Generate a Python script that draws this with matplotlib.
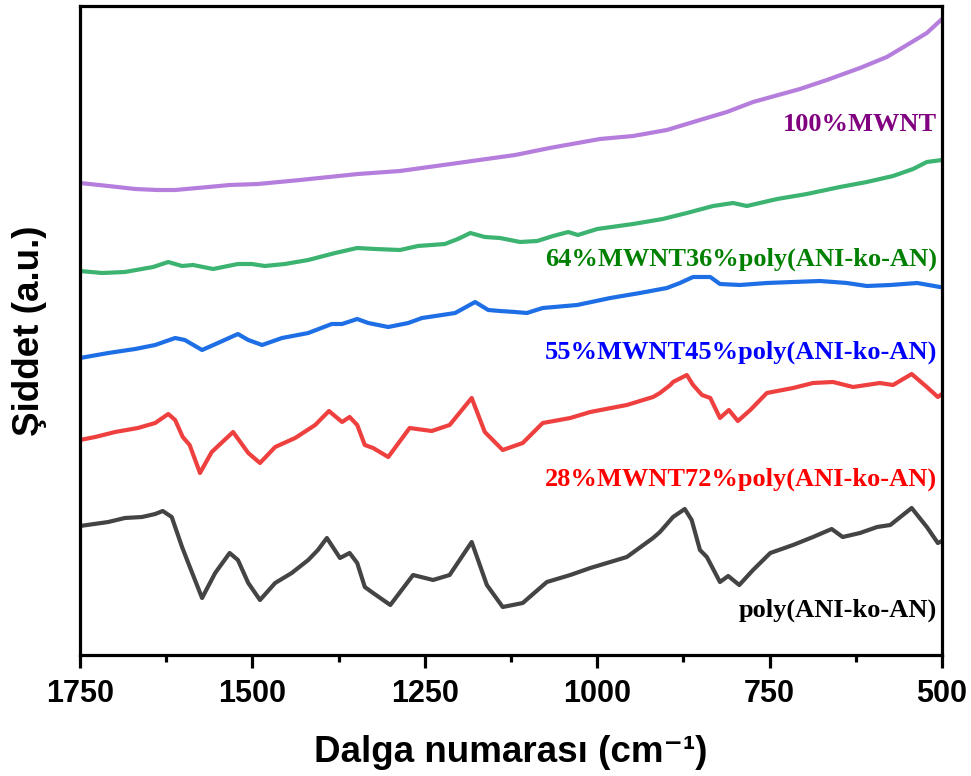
import matplotlib
matplotlib.use("Agg")
import matplotlib.pyplot as plt
from matplotlib.ticker import MultipleLocator

# ---- data (wavenumber in cm^-1, intensity in arbitrary units, offset stacked) ----
wn_poly = [1750, 1709, 1685, 1660, 1641, 1630, 1617, 1602, 1593, 1573, 1554, 1533, 1521, 1506,
           1489, 1467, 1443, 1419, 1405, 1392, 1373, 1359, 1348, 1337, 1325, 1300, 1267, 1238,
           1214, 1182, 1160, 1137, 1108, 1073, 1039, 1010, 957, 919, 909, 890, 873, 863, 851,
           841, 822, 810, 794, 774, 749, 716, 687, 660, 644, 619, 594, 575, 544, 522, 506, 500]
int_poly = [129, 133, 137, 138, 141, 144, 138, 108, 92, 57, 82, 102, 95, 72,
            55, 72, 82, 95, 105, 117, 97, 102, 92, 68, 62, 50, 80, 75,
            80, 113, 70, 48, 52, 73, 80, 87, 98, 117, 123, 138, 146, 135, 105,
            98, 73, 79, 70, 85, 102, 110, 118, 126, 118, 122, 128, 130, 147, 128, 112, 114]

wn_28 = [1750, 1728, 1699, 1666, 1641, 1622, 1612, 1601, 1591, 1576, 1559, 1528, 1506, 1489,
         1467, 1438, 1409, 1389, 1370, 1359, 1348, 1337, 1325, 1303, 1272, 1240, 1214, 1182,
         1163, 1137, 1108, 1079, 1039, 1010, 957, 919, 909, 894, 890, 870, 861, 848, 836,
         822, 809, 796, 778, 754, 716, 687, 658, 629, 590, 571, 544, 522, 506, 500]
int_28 = [215, 218, 223, 227, 232, 241, 235, 218, 210, 182, 203, 223, 202, 192,
          208, 217, 230, 244, 233, 238, 230, 210, 207, 198, 227, 224, 230, 257,
          223, 205, 212, 232, 237, 243, 250, 258, 262, 270, 273, 280, 270, 260, 257,
          237, 245, 234, 245, 262, 267, 272, 273, 268, 272, 270, 281, 268, 258, 261]

wn_55 = [1750, 1709, 1670, 1641, 1612, 1598, 1573, 1550, 1521, 1506, 1486, 1457, 1419, 1385,
         1370, 1348, 1332, 1303, 1274, 1254, 1225, 1206, 1177, 1158, 1141, 1119, 1102, 1079,
         1029, 981, 938, 899, 880, 861, 836, 822, 793, 754, 716, 677, 638, 609, 575, 536, 503, 500]
int_55 = [297, 302, 306, 310, 317, 315, 305, 312, 321, 315, 310, 317, 322, 331,
          331, 336, 332, 328, 332, 337, 340, 342, 353, 345, 344, 343, 342, 347,
          350, 357, 362, 367, 372, 378, 378, 371, 370, 372, 373, 374, 372, 369, 370, 372, 368, 368]

wn_64 = [1750, 1718, 1685, 1644, 1622, 1602, 1586, 1557, 1521, 1501, 1482, 1453, 1419, 1380,
         1348, 1322, 1286, 1260, 1221, 1202, 1184, 1163, 1141, 1119, 1112, 1087, 1064, 1042,
         1028, 1000, 948, 905, 870, 832, 803, 783, 739, 696, 648, 609, 571, 542, 522, 500]
int_64 = [384, 382, 383, 388, 393, 389, 390, 386, 391, 391, 389, 391, 395, 402,
          407, 406, 405, 409, 411, 416, 422, 418, 417, 414, 413, 414, 419, 423,
          420, 426, 431, 436, 442, 449, 452, 449, 456, 461, 468, 473, 479, 486, 493, 495]

wn_100 = [1750, 1709, 1670, 1638, 1612, 1564, 1533, 1492, 1431, 1347, 1286, 1202, 1119, 1069,
          996, 948, 899, 851, 812, 774, 706, 667, 619, 580, 546, 522, 500]
int_100 = [472, 469, 466, 465, 465, 468, 470, 471, 475, 481, 484, 492, 500, 507,
           516, 519, 525, 535, 543, 553, 566, 575, 587, 598, 612, 622, 636]

labels = ["poly(ANI-ko-AN)", "28%MWNT72%poly(ANI-ko-AN)", "55%MWNT45%poly(ANI-ko-AN)",
          "64%MWNT36%poly(ANI-ko-AN)", "100%MWNT"]
xticks = [1750, 1500, 1250, 1000, 750, 500]

# ---- styling ----
line_colors = ["#444444", "#EF4040", "#1E6FE6", "#3CB371", "#B57EDC"]
text_colors = ["#000000", "#FF0000", "#0000FF", "#008000", "#800080"]
label_y = [0.069, 0.270, 0.467, 0.609, 0.818]

fig = plt.figure(figsize=(9.71, 7.76), dpi=100)
ax = fig.add_axes([80 / 971, 121 / 776, 862 / 971, 649 / 776])

series = [(wn_poly, int_poly), (wn_28, int_28), (wn_55, int_55), (wn_64, int_64), (wn_100, int_100)]
for (x, y), c in zip(series, line_colors):
    ax.plot(x, y, color=c, lw=3.0, solid_joinstyle="round", solid_capstyle="round")

for lab, c, yy in zip(labels, text_colors, label_y):
    ax.text(0.994, yy, lab, transform=ax.transAxes, ha="right", va="center",
            color=c, fontsize=19, fontweight="bold", family="Liberation Serif")

ax.set_xlim(1750, 500)
ax.set_ylim(0, 649)
ax.set_xticks(xticks)
ax.xaxis.set_minor_locator(MultipleLocator(125))
ax.set_yticks([])
for s in ax.spines.values():
    s.set_linewidth(2.3)
ax.tick_params(axis="x", which="major", direction="out", length=9, width=2.3,
               labelsize=22, pad=8)
ax.tick_params(axis="x", which="minor", direction="out", length=5, width=2.3)
for t in ax.get_xticklabels():
    t.set_fontweight("bold")
    t.set_family("Liberation Sans")

ax.set_xlabel("Dalga numarası (cm⁻¹)", fontsize=26.5, fontweight="bold",
              family=["Liberation Sans", "DejaVu Sans"], labelpad=19)
ax.set_ylabel("Şiddet (a.u.)", fontsize=26.5, fontweight="bold", family="Liberation Sans",
              labelpad=24)

fig.savefig("out.png", dpi=100)
